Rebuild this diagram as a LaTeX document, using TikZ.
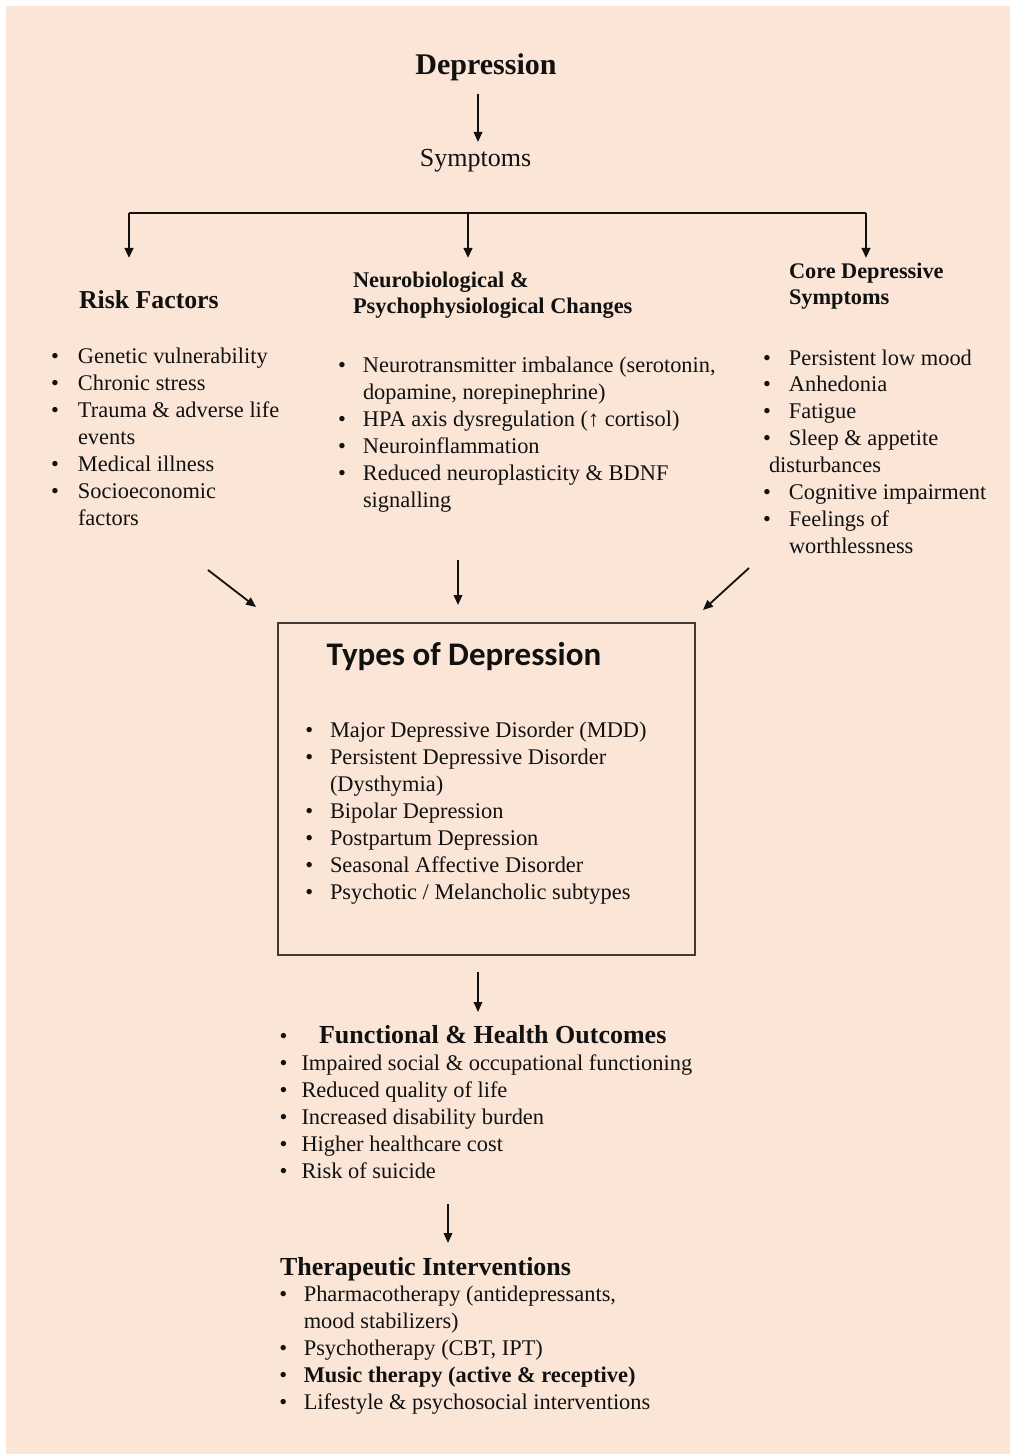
\documentclass[tikz,border=0pt]{standalone}
\usepackage{fontspec}
\setmainfont{Liberation Serif}
\newfontfamily\calibri{Carlito}
\usetikzlibrary{arrows.meta}
\definecolor{peach}{HTML}{FBE5D6}
\definecolor{ink}{HTML}{111111}
\definecolor{boxline}{HTML}{3F3A38}

% body text: 22.4pt type, row pitch given by #1
\newcommand\bodysize[1]{\fontsize{22.4}{#1}\selectfont}
% bulleted list: #1 row pitch, #2 bullet column width, #3 rows
\newcommand\itemlist[3]{{\bodysize{#1}\begin{tabular}{@{}p{#2}@{}l@{}}#3\end{tabular}}}
% two-line bold heading: #1 size, #2 pitch, #3 rows
\newcommand\headlines[3]{{\fontsize{#1}{#2}\selectfont\bfseries\begin{tabular}{@{}l@{}}#3\end{tabular}}}

\begin{document}
\begin{tikzpicture}[x=1pt,y=-1pt,
  txt/.style={inner sep=0pt, outer sep=0pt, text=ink},
  arr/.style={draw=ink, line width=1.8pt, -{Triangle[length=10pt,width=8.5pt]}},
  barline/.style={draw=ink, line width=2.8pt},
  typebox/.style={draw=boxline, line width=1.3pt, inner sep=0pt, minimum width=417pt, minimum height=332pt}]

% page and background
\fill[white] (0,0) rectangle (1014,1455);
\useasboundingbox (0,0) rectangle (1014,1455);
\fill[peach] (6,6) rectangle (1010,1454);

% top of the chart
\node[txt, anchor=base, font=\fontsize{30}{32}\selectfont\bfseries] (dep) at (486,75) {Depression};
\node[txt, anchor=base, font=\fontsize{26}{30}\selectfont] (sym) at (475.5,167) {Symptoms};
\coordinate (depout) at (478,94);
\coordinate (symin) at (478,142);
\draw[arr] (depout) -- (symin);

% branching bar
\coordinate (barL) at (129,213);
\coordinate (barM) at (468,213);
\coordinate (barR) at (866,213);
\coordinate (tipL) at (129,258);
\coordinate (tipM) at (468,258);
\coordinate (tipR) at (866,258);
\draw[barline] (barL) -- (barR);
\draw[arr, line width=2.4pt] (barL) -- (tipL);
\draw[arr, line width=2.4pt] (barM) -- (tipM);
\draw[arr, line width=2.4pt] (barR) -- (tipR);

% three columns
\node[txt, anchor=base west, font=\fontsize{25.8}{30}\selectfont\bfseries] (riskhead) at (79,308) {Risk Factors};
\node[txt, anchor=north west] (neurohead) at (353,268.8)
  {\headlines{22.4}{26}{Neurobiological \&\\ Psychophysiological Changes}};
\node[txt, anchor=north west] (corehead) at (789,259.8)
  {\headlines{22.3}{26}{Core Depressive\\ Symptoms}};

\node[txt, anchor=north west] (risklist) at (51,344.1)
  {\itemlist{27}{27pt}{%
    \textbullet & Genetic vulnerability\\
    \textbullet & Chronic stress\\
    \textbullet & Trauma \& adverse life\\
                & events\\
    \textbullet & Medical illness\\
    \textbullet & Socioeconomic\\
                & factors}};

\node[txt, anchor=north west] (neurolist) at (338,353.1)
  {\itemlist{27}{25pt}{%
    \textbullet & Neurotransmitter imbalance (serotonin,\\
                & dopamine, norepinephrine)\\
    \textbullet & HPA axis dysregulation (↑ cortisol)\\
    \textbullet & Neuroinflammation\\
    \textbullet & Reduced neuroplasticity \& BDNF\\
                & signalling}};

\node[txt, anchor=north west] (corelist) at (763,346.2)
  {\itemlist{26.9}{26pt}{%
    \textbullet & Persistent low mood\\
    \textbullet & Anhedonia\\
    \textbullet & Fatigue\\
    \textbullet & Sleep \& appetite\\
    \multicolumn{2}{@{\hspace{6pt}}l@{}}{disturbances}\\
    \textbullet & Cognitive impairment\\
    \textbullet & Feelings of\\
                & worthlessness}};

% converging arrows
\coordinate (riskout) at (208,570);
\coordinate (riskin) at (256,607);
\coordinate (neuroout) at (458,560);
\coordinate (neuroin) at (458,605);
\coordinate (coreout) at (749,568);
\coordinate (corein) at (703,610);
\draw[arr] (riskout) -- (riskin);
\draw[arr] (neuroout) -- (neuroin);
\draw[arr] (coreout) -- (corein);

% types of depression box
\node[typebox] (types) at (486.5,789) {};
\node[txt, anchor=base west, font=\calibri\fontsize{33}{36}\selectfont\bfseries] (typeshead) at (326.7,665) {Types of Depression};
\node[txt, anchor=north west] (typelist) at (305.4,718.1)
  {\itemlist{27}{24.6pt}{%
    \textbullet & Major Depressive Disorder (MDD)\\
    \textbullet & Persistent Depressive Disorder\\
                & (Dysthymia)\\
    \textbullet & Bipolar Depression\\
    \textbullet & Postpartum Depression\\
    \textbullet & Seasonal Affective Disorder\\
    \textbullet & Psychotic / Melancholic subtypes}};

% outcomes
\coordinate (typesout) at (478,972);
\coordinate (outin) at (478,1012);
\draw[arr] (typesout) -- (outin);
\node[txt, anchor=north west] (outlist) at (279.5,1024.1)
  {\itemlist{27}{22pt}{%
    \textbullet & \hspace{17.5pt}{\fontsize{26}{27}\selectfont\bfseries Functional \& Health Outcomes}\\
    \textbullet & Impaired social \& occupational functioning\\
    \textbullet & Reduced quality of life\\
    \textbullet & Increased disability burden\\
    \textbullet & Higher healthcare cost\\
    \textbullet & Risk of suicide}};

% interventions
\coordinate (outout) at (448,1204);
\coordinate (therin) at (448,1243);
\draw[arr] (outout) -- (therin);
\node[txt, anchor=base west, font=\fontsize{26}{30}\selectfont\bfseries] (therhead) at (280,1275) {Therapeutic Interventions};
\node[txt, anchor=north west] (therlist) at (279.4,1283.2)
  {\itemlist{26.8}{24.4pt}{%
    \textbullet & Pharmacotherapy (antidepressants,\\
                & mood stabilizers)\\
    \textbullet & Psychotherapy (CBT, IPT)\\
    \textbullet & \textbf{Music therapy (active \& receptive)}\\
    \textbullet & Lifestyle \& psychosocial interventions}};

\end{tikzpicture}
\end{document}
